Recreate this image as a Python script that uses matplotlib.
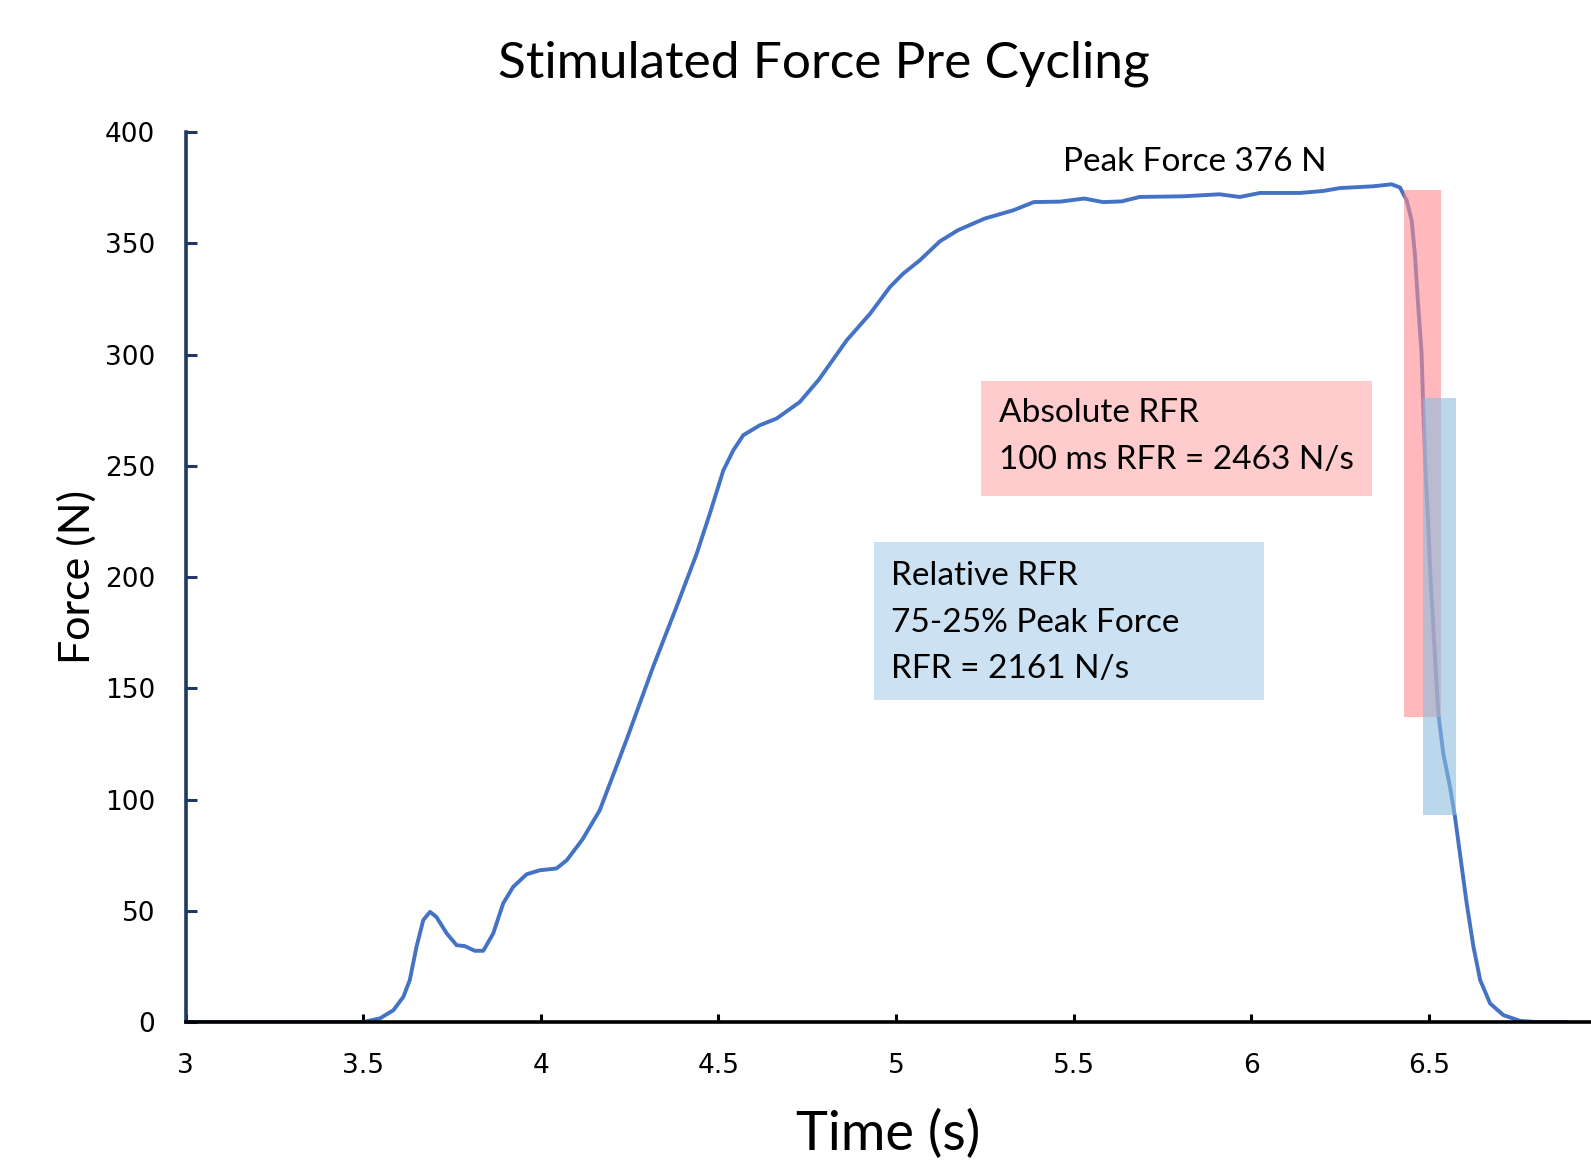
import matplotlib.pyplot as plt
from matplotlib.patches import Rectangle

# force trace (time in s, force in N)
time_s = [3.0, 3.3, 3.5, 3.547, 3.585, 3.613, 3.631, 3.650, 3.669, 3.688, 3.706,
          3.735, 3.763, 3.786, 3.814, 3.838, 3.866, 3.894, 3.922, 3.960, 3.997,
          4.044, 4.073, 4.117, 4.166, 4.241, 4.316, 4.382, 4.439, 4.476, 4.514,
          4.542, 4.570, 4.617, 4.664, 4.729, 4.783, 4.861, 4.927, 4.983, 5.020,
          5.067, 5.124, 5.175, 5.250, 5.330, 5.388, 5.462, 5.530, 5.583, 5.635,
          5.686, 5.808, 5.911, 5.968, 6.025, 6.137, 6.203, 6.250, 6.344, 6.395,
          6.419, 6.438, 6.452, 6.461, 6.470, 6.480, 6.484, 6.491, 6.498, 6.505,
          6.513, 6.527, 6.541, 6.560, 6.574, 6.588, 6.607, 6.626, 6.645, 6.673,
          6.710, 6.757, 6.80, 6.888]
force_n = [0, 0, 0, 1.6, 5.3, 11.3, 18.8, 33.8, 45.8, 49.5, 47.2,
           39.8, 34.5, 34.1, 32, 32, 39.8, 53.3, 60.7, 66.4, 68.2,
           69, 72.7, 82, 95.2, 126.7, 159.6, 186.6, 210.6, 228.6, 248,
           257, 263.8, 268.3, 271.3, 278.7, 288.8, 306.4, 318.4, 330.4, 336.4,
           342.4, 351, 356, 361.2, 364.9, 368.6, 368.8, 370.2, 368.6, 368.9,
           370.9, 371.2, 372.1, 370.9, 372.7, 372.7, 373.6, 374.9, 375.7, 376.6,
           375.2, 369.4, 360.4, 345.4, 323, 300.5, 279.5, 248, 225.6, 200,
           177.6, 138.7, 120.7, 105.7, 92.2, 75.7, 53.3, 33.8, 18.8, 8.3,
           3.1, 0.5, 0, 0]

# RFR windows: (t_start, t_end, f_low, f_high)
abs_window = (6.430, 6.534, 137.1, 374.2)
rel_window = (6.484, 6.578, 93.0, 280.6)

x_ticks = [3, 3.5, 4, 4.5, 5, 5.5, 6, 6.5]
x_tick_labels = ["3", "3.5", "4", "4.5", "5", "5.5", "6", "6.5"]
y_ticks = [0, 50, 100, 150, 200, 250, 300, 350, 400]

label_font = "Lato"

fig = plt.figure(figsize=(15.91, 11.60), dpi=100)
ax = fig.add_axes([0.1167, 0.119, 0.8833, 0.767])

ax.plot(time_s, force_n, color="#4472C4", linewidth=2.8, zorder=3,
        solid_joinstyle="round", solid_capstyle="round")

# shaded RFR windows
ax.add_patch(Rectangle((abs_window[0], abs_window[2]), abs_window[1] - abs_window[0],
                       abs_window[3] - abs_window[2], facecolor="#FF8A8E", alpha=0.6,
                       edgecolor="none", zorder=4))
ax.add_patch(Rectangle((rel_window[0], rel_window[2]), rel_window[1] - rel_window[0],
                       rel_window[3] - rel_window[2], facecolor="#8CBDE0", alpha=0.6,
                       edgecolor="none", zorder=4))

# annotation boxes
ax.add_patch(Rectangle((5.24, 236.3), 1.10, 52.0, facecolor="#FFCCCD", edgecolor="none", zorder=1))
ax.add_patch(Rectangle((4.937, 144.6), 1.10, 71.1, facecolor="#CCE1F2", edgecolor="none", zorder=1))

box_text = dict(fontsize=24, family=label_font, va="center", ha="left", zorder=5)
ax.text(5.29, 274, "Absolute RFR", **box_text)
ax.text(5.29, 252.5, "100 ms RFR = 2463 N/s", **box_text)
ax.text(4.985, 200.5, "Relative RFR", **box_text)
ax.text(4.985, 179.5, "75-25% Peak Force", **box_text)
ax.text(4.985, 158.5, "RFR = 2161 N/s", **box_text)
ax.text(5.84, 386.5, "Peak Force 376 N", fontsize=24, family=label_font,
        va="center", ha="center", zorder=5)

ax.set_xlim(3, 6.957)
ax.set_ylim(0, 400)
ax.set_xticks(x_ticks)
ax.set_xticklabels(x_tick_labels)
ax.set_yticks(y_ticks)

for side in ["top", "right"]:
    ax.spines[side].set_visible(False)
ax.spines["left"].set_color("#1F3864")
ax.spines["left"].set_linewidth(2.6)
ax.spines["bottom"].set_color("black")
ax.spines["bottom"].set_linewidth(2.6)
ax.spines["left"].set_zorder(6)
ax.spines["bottom"].set_zorder(6)

ax.tick_params(axis="y", direction="in", length=8, width=2.2, color="#1F3864",
               labelsize=19, pad=22)
ax.tick_params(axis="x", direction="in", length=6, width=2.2, color="black",
               labelsize=19, pad=22)

ax.set_xlabel("Time (s)", fontsize=39, family=label_font, labelpad=22)
ax.set_ylabel("Force (N)", fontsize=31, family=label_font, labelpad=6)

fig.text(0.518, 0.945, "Stimulated Force Pre Cycling", fontsize=37, family=label_font,
         ha="center", va="center")

fig.savefig("out.png", dpi=100)
